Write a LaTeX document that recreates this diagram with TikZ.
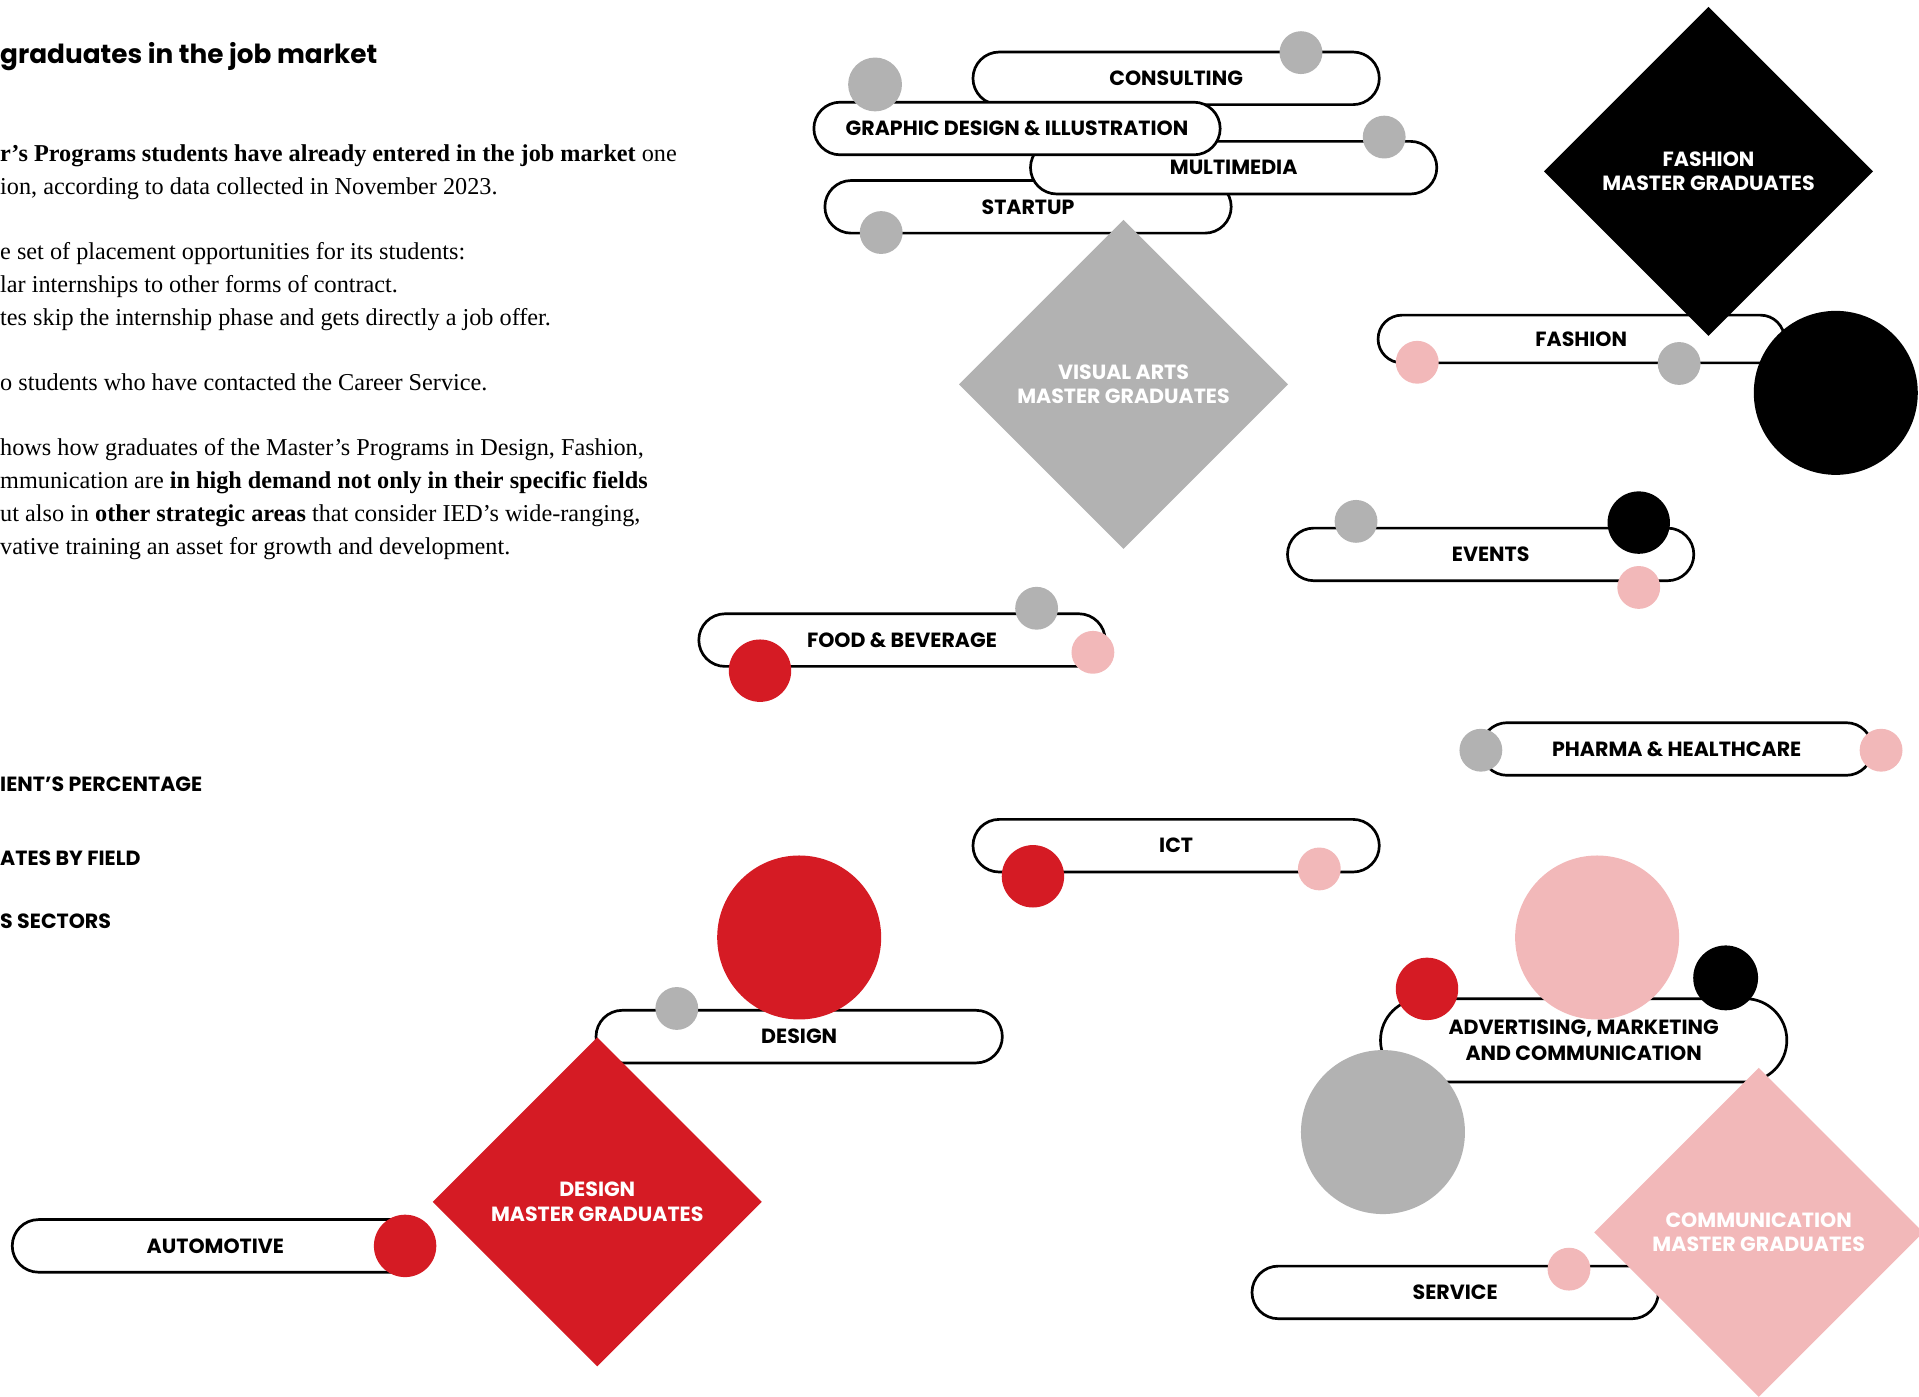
\documentclass[tikz,border=0pt]{standalone}
\usepackage{fontspec}
\setmainfont{Liberation Serif}
\newfontfamily\labfont{Poppins}
\usetikzlibrary{shapes.misc,shapes.geometric}

\definecolor{iedred}{HTML}{D51B24}
\definecolor{iedgrey}{HTML}{B2B2B2}
\definecolor{iedpink}{HTML}{F2B8B9}

\tikzset{
  pill/.style={draw, line width=2.2pt, fill=white, rounded rectangle, minimum width=332pt,
    minimum height=43pt, inner sep=0pt, align=center,
    font=\labfont\bfseries\fontsize{16.8}{21}\selectfont},
  gradbox/.style={diamond, minimum width=269pt, minimum height=269pt, inner sep=0pt,
    text=white, align=center, font=\labfont\bfseries\fontsize{16.8}{20}\selectfont},
  dot/.style={circle, inner sep=0pt, minimum size=35pt},
  middot/.style={circle, inner sep=0pt, minimum size=51pt},
  bigdot/.style={circle, inner sep=0pt, minimum size=134pt},
  bodytxt/.style={anchor=base west, inner sep=0pt, font=\fontsize{19.8}{26}\selectfont},
  legtxt/.style={anchor=base west, inner sep=0pt, font=\labfont\bfseries\fontsize{16.8}{20}\selectfont}
}

\begin{document}
\begin{tikzpicture}[x=1pt,y=-1pt]
\useasboundingbox (0,0) rectangle (1568,1141);

% text column
\node[anchor=base west, inner sep=0pt, font=\labfont\bfseries\fontsize{21.5}{25}\selectfont] (title) at (0,52) {graduates in the job market};
\node[bodytxt] (p1) at (0,132) {\textbf{r’s Programs students have already entered in the job market} one};
\node[bodytxt] (p2) at (0,159) {ion, according to data collected in November 2023.};
\node[bodytxt] (p3) at (0,212) {e set of placement opportunities for its students:};
\node[bodytxt] (p4) at (0,239) {lar internships to other forms of contract.};
\node[bodytxt] (p5) at (0,266) {tes skip the internship phase and gets directly a job offer.};
\node[bodytxt] (p6) at (0,319) {o students who have contacted the Career Service.};
\node[bodytxt] (p7) at (0,372) {hows how graduates of the Master’s Programs in Design, Fashion,};
\node[bodytxt] (p8) at (0,399) {mmunication are \textbf{in high demand not only in their specific fields}};
\node[bodytxt] (p9) at (0,426) {ut also in \textbf{other strategic areas} that consider IED’s wide-ranging,};
\node[bodytxt] (p10) at (0,453) {vative training an asset for growth and development.};

\node[legtxt] (leg1) at (0,647) {IENT’S PERCENTAGE};
\node[legtxt] (leg2) at (0,707) {ATES BY FIELD};
\node[legtxt] (leg3) at (0,759) {S SECTORS};

% sector pills
\node[pill] (consulting) at (961,64) {CONSULTING};
\node[pill] (startup) at (840,169) {STARTUP};
\node[pill] (multimedia) at (1008,137) {MULTIMEDIA};
\node[pill] (graphic) at (831,105) {GRAPHIC DESIGN \& ILLUSTRATION};
\node[pill, minimum height=39pt] (fashion) at (1292,277) {FASHION};
\node[pill] (events) at (1218,453) {EVENTS};
\node[pill] (food) at (737,523) {FOOD \& BEVERAGE};
\node[pill, minimum width=320pt] (pharma) at (1370,612) {PHARMA \& HEALTHCARE};
\node[pill] (ict) at (961,691) {ICT};
\node[pill] (design) at (653,847) {DESIGN};
\node[pill] (automotive) at (176,1018) {AUTOMOTIVE};
\node[pill, minimum height=68pt] (advertising) at (1294,850) {ADVERTISING, MARKETING\\AND COMMUNICATION};
\node[pill] (service) at (1189,1056) {SERVICE};

% master graduates
\node[gradbox, fill=iedgrey] (visual) at (918,314) {VISUAL ARTS\\MASTER GRADUATES};
\node[gradbox, fill=black] (fashionmg) at (1396,140) {FASHION\\MASTER GRADUATES};
\node[gradbox, fill=iedred] (designmg) at (488,982) {DESIGN\\MASTER GRADUATES};
\node[gradbox, fill=iedpink] (commmg) at (1437,1007) {COMMUNICATION\\MASTER GRADUATES};

% placement dots
\node[dot, fill=iedgrey] (d1) at (1063,43) {};
\node[dot, fill=iedgrey, minimum size=44pt] (d2) at (715,69) {};
\node[dot, fill=iedgrey] (d3) at (1131,112) {};
\node[dot, fill=iedgrey] (d4) at (720,190) {};
\node[dot, fill=iedpink] (d5) at (1158,296) {};
\node[dot, fill=iedgrey] (d6) at (1372,297) {};
\node[bigdot, fill=black] (d7) at (1500,321) {};
\node[dot, fill=iedgrey] (d8) at (1108,426) {};
\node[middot, fill=black] (d9) at (1339,427) {};
\node[dot, fill=iedpink] (d10) at (1339,480) {};
\node[dot, fill=iedgrey] (d11) at (847,497) {};
\node[middot, fill=iedred] (d12) at (621,548) {};
\node[dot, fill=iedpink] (d13) at (893,533) {};
\node[dot, fill=iedgrey] (d14) at (1210,613) {};
\node[dot, fill=iedpink] (d15) at (1537,613) {};
\node[middot, fill=iedred] (d16) at (844,716) {};
\node[dot, fill=iedpink] (d17) at (1078,710) {};
\node[bigdot, fill=iedred] (d18) at (653,766) {};
\node[dot, fill=iedgrey] (d19) at (553,824) {};
\node[middot, fill=iedred] (d20) at (331,1018) {};
\node[bigdot, fill=iedpink] (d21) at (1305,766) {};
\node[middot, fill=iedred] (d22) at (1166,808) {};
\node[middot, fill=black, minimum size=53pt] (d23) at (1410,799) {};
\node[bigdot, fill=iedgrey] (d24) at (1130,925) {};
\node[dot, fill=iedpink] (d25) at (1282,1037) {};
\end{tikzpicture}
\end{document}
